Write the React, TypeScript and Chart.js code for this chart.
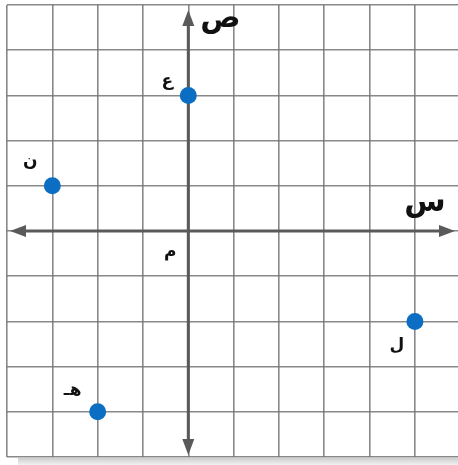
import React, { useEffect, useRef } from "react";
import { Chart, registerables } from "chart.js";

Chart.register(...registerables);

const pointNames = ["ع", "ن", "ل", "هـ"];
const xValues = [0, -3, 5, -2];
const yValues = [3, 1, -2, -4];
const xAxisName = "س";
const yAxisName = "ص";
const originName = "م";
const xMin = -4;
const xMax = 5.95;
const yMin = -5;
const yMax = 5;

const labelOffsets = [
  [-21, -14],
  [-22, -24],
  [-18, 24],
  [-25, -21],
];

const decorPlugin = {
  id: "decor",
  beforeDraw(chart: any) {
    const { ctx, chartArea } = chart;
    ctx.save();
    ctx.fillStyle = "#ffffff";
    ctx.fillRect(0, 0, chart.width, chart.height);
    const g = ctx.createLinearGradient(0, chartArea.bottom, 0, chart.height);
    g.addColorStop(0, "#c8c8c8");
    g.addColorStop(1, "#f2f2f2");
    ctx.fillStyle = g;
    ctx.fillRect(18, chartArea.bottom + 1, chart.width - 18, chart.height - chartArea.bottom);
    ctx.restore();
  },
  beforeDatasetsDraw(chart: any) {
    const { ctx, scales } = chart;
    const x = scales.x;
    const y = scales.y;
    const ox = x.getPixelForValue(0);
    const oy = y.getPixelForValue(0);
    const left = x.getPixelForValue(xMin) + 3;
    const right = chart.width - 3;
    const top = y.getPixelForValue(yMax) + 5;
    const bottom = y.getPixelForValue(yMin) - 2;
    ctx.save();
    ctx.strokeStyle = "#5a5a5a";
    ctx.fillStyle = "#5a5a5a";
    ctx.lineWidth = 3;
    ctx.beginPath();
    ctx.moveTo(left + 10, oy);
    ctx.lineTo(right - 10, oy);
    ctx.moveTo(ox, top + 10);
    ctx.lineTo(ox, bottom - 10);
    ctx.stroke();
    const ah = 16;
    const aw = 6;
    ctx.beginPath();
    ctx.moveTo(left, oy);
    ctx.lineTo(left + ah, oy - aw);
    ctx.lineTo(left + ah, oy + aw);
    ctx.closePath();
    ctx.moveTo(right, oy);
    ctx.lineTo(right - ah, oy - aw);
    ctx.lineTo(right - ah, oy + aw);
    ctx.closePath();
    ctx.moveTo(ox, top);
    ctx.lineTo(ox - aw, top + ah);
    ctx.lineTo(ox + aw, top + ah);
    ctx.closePath();
    ctx.moveTo(ox, bottom);
    ctx.lineTo(ox - aw, bottom - ah);
    ctx.lineTo(ox + aw, bottom - ah);
    ctx.closePath();
    ctx.fill();
    ctx.restore();
  },
  afterDatasetsDraw(chart: any) {
    const { ctx, scales } = chart;
    const x = scales.x;
    const y = scales.y;
    ctx.save();
    ctx.fillStyle = "#111111";
    ctx.textAlign = "center";
    ctx.textBaseline = "middle";
    ctx.font = "bold 17px 'DejaVu Sans'";
    pointNames.forEach((n, i) => {
      const px = x.getPixelForValue(xValues[i]) + labelOffsets[i][0];
      const py = y.getPixelForValue(yValues[i]) + labelOffsets[i][1];
      ctx.fillText(n, px, py);
    });
    const ox = x.getPixelForValue(0);
    const oy = y.getPixelForValue(0);
    ctx.fillText(originName, ox - 18, oy + 22);
    ctx.font = "bold 30px 'DejaVu Sans'";
    ctx.fillText(yAxisName, ox + 32, y.getPixelForValue(yMax) + 14);
    ctx.fillText(xAxisName, x.getPixelForValue(5) + 10, oy - 28);
    ctx.restore();
  },
};

export default function App() {
  const ref = useRef<HTMLCanvasElement>(null);
  useEffect(() => {
    if (!ref.current) return;
    const gridOpts = {
      color: "rgba(115,115,115,0.85)",
      lineWidth: 1.6,
      drawTicks: false,
    };
    const chart = new Chart(ref.current, {
      type: "scatter",
      data: {
        datasets: [
          {
            data: xValues.map((v, i) => ({ x: v, y: yValues[i] })),
            backgroundColor: "#0b6ec2",
            borderWidth: 0,
            pointRadius: 8.5,
            pointHoverRadius: 8.5,
            clip: false as any,
          },
        ],
      },
      options: {
        animation: false,
        responsive: false,
        devicePixelRatio: 1,
        events: [],
        layout: { autoPadding: false, padding: { left: 7, top: 5, right: 0, bottom: 8 } },
        plugins: { legend: { display: false }, tooltip: { enabled: false } },
        scales: {
          x: {
            type: "linear",
            min: xMin,
            max: xMax,
            ticks: { display: false, stepSize: 1 },
            grid: gridOpts,
            border: { display: false },
            afterBuildTicks: (s: any) => {
              s.ticks = s.ticks.filter((t: any) => Number.isInteger(t.value));
            },
          },
          y: {
            type: "linear",
            min: yMin,
            max: yMax,
            ticks: { display: false, stepSize: 1 },
            grid: gridOpts,
            border: { display: false },
          },
        },
      },
      plugins: [decorPlugin],
    });
    return () => chart.destroy();
  }, []);
  return (
    <div style={{ position: "absolute", left: 0, top: 0, width: 458, height: 465 }}>
      <canvas ref={ref} width={458} height={465} />
    </div>
  );
}
